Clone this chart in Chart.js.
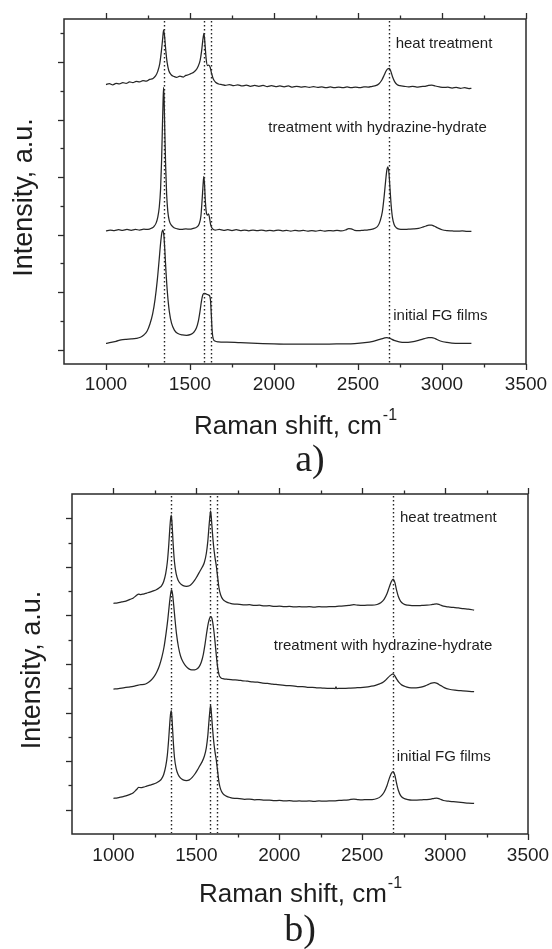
<!DOCTYPE html>
<html>
<head>
<meta charset="utf-8">
<script src="https://cdn.jsdelivr.net/npm/chart.js@4.4.1/dist/chart.umd.min.js"></script>
<style>
  body { margin: 0; background: #fff; }
  #wrap { position: relative; width: 552px; height: 949px; }
  canvas { position: absolute; left: 0; }
</style>
</head>
<body>
<div id="wrap">
  <canvas id="chartA" width="552" height="500" style="top:0"></canvas>
  <canvas id="chartB" width="552" height="479" style="top:470px"></canvas>
</div>
<script>
// Raman spectra, [shift cm-1, offset intensity]; y is in tick units of each panel
const heatA = [[1000,9.72],[1020,9.75],[1040,9.71],[1060,9.76],[1080,9.74],[1100,9.79],[1120,9.76],[1140,9.81],[1160,9.79],[1180,9.83],[1200,9.81],[1220,9.86],[1240,9.84],[1260,9.90],[1280,9.93],[1295,10.02],[1308,10.18],[1320,10.45],[1330,10.90],[1337,11.30],[1343,11.62],[1349,11.38],[1356,10.90],[1364,10.48],[1374,10.20],[1388,10.06],[1405,10.00],[1420,9.97],[1440,10.01],[1460,9.98],[1475,10.04],[1490,10.06],[1505,10.10],[1520,10.14],[1535,10.22],[1548,10.35],[1560,10.55],[1569,10.88],[1576,11.25],[1583,11.50],[1589,11.15],[1596,10.62],[1604,10.38],[1612,10.40],[1620,10.32],[1628,10.12],[1638,9.92],[1652,9.80],[1670,9.74],[1690,9.72],[1710,9.69],[1735,9.72],[1760,9.68],[1785,9.71],[1810,9.67],[1835,9.70],[1860,9.66],[1885,9.69],[1910,9.66],[1935,9.69],[1960,9.65],[1985,9.68],[2010,9.65],[2035,9.67],[2060,9.64],[2085,9.67],[2110,9.63],[2135,9.66],[2160,9.63],[2185,9.65],[2210,9.62],[2235,9.65],[2260,9.62],[2285,9.64],[2310,9.61],[2335,9.64],[2360,9.61],[2385,9.63],[2410,9.61],[2435,9.64],[2460,9.61],[2485,9.63],[2510,9.61],[2535,9.64],[2560,9.63],[2585,9.66],[2605,9.68],[2625,9.75],[2642,9.88],[2656,10.05],[2668,10.20],[2678,10.27],[2687,10.28],[2696,10.17],[2706,9.98],[2718,9.82],[2732,9.72],[2750,9.68],[2775,9.66],[2800,9.64],[2825,9.66],[2850,9.63],[2875,9.65],[2900,9.66],[2920,9.69],[2940,9.70],[2960,9.67],[2985,9.64],[3010,9.62],[3035,9.63],[3060,9.60],[3085,9.62],[3110,9.59],[3135,9.61],[3160,9.58],[3175,9.59]];
const hydrazineA = [[1000,4.63],[1025,4.66],[1050,4.64],[1075,4.67],[1100,4.65],[1125,4.68],[1150,4.65],[1175,4.68],[1200,4.66],[1225,4.69],[1250,4.68],[1270,4.72],[1285,4.78],[1298,4.90],[1308,5.10],[1317,5.45],[1325,6.10],[1331,7.10],[1336,8.30],[1340,9.20],[1343,9.62],[1346,9.20],[1350,8.10],[1355,6.90],[1361,5.90],[1368,5.30],[1377,4.98],[1390,4.82],[1405,4.74],[1425,4.70],[1450,4.68],[1475,4.70],[1500,4.69],[1520,4.72],[1540,4.76],[1555,4.88],[1565,5.15],[1572,5.70],[1578,6.25],[1582,6.52],[1586,6.30],[1591,5.70],[1597,5.28],[1604,5.18],[1611,5.22],[1617,5.05],[1624,4.82],[1635,4.70],[1650,4.66],[1675,4.68],[1700,4.65],[1725,4.67],[1750,4.64],[1775,4.67],[1800,4.64],[1825,4.66],[1850,4.63],[1875,4.66],[1900,4.64],[1925,4.66],[1950,4.63],[1975,4.65],[2000,4.63],[2025,4.66],[2050,4.63],[2075,4.65],[2100,4.62],[2125,4.65],[2150,4.63],[2175,4.65],[2200,4.62],[2225,4.64],[2250,4.62],[2275,4.65],[2300,4.62],[2325,4.64],[2350,4.63],[2375,4.65],[2400,4.63],[2425,4.66],[2445,4.71],[2460,4.70],[2480,4.65],[2505,4.64],[2530,4.65],[2555,4.66],[2580,4.68],[2600,4.72],[2618,4.80],[2632,4.98],[2645,5.30],[2656,5.85],[2665,6.40],[2672,6.75],[2678,6.86],[2684,6.65],[2690,6.15],[2697,5.55],[2705,5.10],[2715,4.85],[2728,4.74],[2745,4.69],[2770,4.68],[2800,4.69],[2830,4.70],[2860,4.72],[2885,4.76],[2905,4.80],[2922,4.83],[2938,4.83],[2955,4.79],[2975,4.73],[3000,4.67],[3030,4.64],[3060,4.63],[3090,4.62],[3120,4.63],[3150,4.61],[3175,4.61]];
const initialA = [[1000,0.72],[1030,0.75],[1060,0.79],[1090,0.84],[1120,0.86],[1150,0.87],[1180,0.89],[1205,0.93],[1225,1.01],[1245,1.15],[1262,1.40],[1278,1.75],[1292,2.25],[1305,2.90],[1316,3.60],[1325,4.20],[1332,4.55],[1338,4.66],[1344,4.50],[1350,3.98],[1357,3.22],[1366,2.45],[1377,1.82],[1390,1.42],[1407,1.18],[1428,1.06],[1455,1.01],[1480,1.00],[1505,1.03],[1522,1.10],[1538,1.25],[1550,1.50],[1560,1.85],[1568,2.18],[1576,2.40],[1584,2.46],[1595,2.44],[1606,2.41],[1616,2.38],[1622,2.22],[1627,1.70],[1632,1.15],[1638,0.88],[1648,0.80],[1670,0.77],[1720,0.76],[1800,0.74],[1900,0.72],[2000,0.70],[2100,0.69],[2200,0.69],[2300,0.69],[2400,0.70],[2480,0.71],[2540,0.74],[2590,0.79],[2630,0.86],[2655,0.90],[2672,0.92],[2690,0.89],[2715,0.82],[2745,0.77],[2780,0.75],[2820,0.77],[2860,0.82],[2895,0.88],[2920,0.92],[2940,0.92],[2960,0.88],[2990,0.80],[3030,0.75],[3080,0.72],[3130,0.72],[3175,0.72]];

const heatB = [[1000,9.50],[1025,9.52],[1050,9.56],[1075,9.59],[1100,9.66],[1120,9.72],[1138,9.82],[1152,9.88],[1165,9.86],[1180,9.88],[1200,9.92],[1220,9.96],[1240,10.01],[1258,10.06],[1275,10.13],[1290,10.22],[1303,10.40],[1315,10.72],[1325,11.20],[1333,11.85],[1340,12.60],[1345,13.00],[1349,13.13],[1354,12.70],[1360,11.95],[1368,11.20],[1378,10.72],[1390,10.45],[1405,10.30],[1420,10.23],[1440,10.20],[1458,10.22],[1475,10.32],[1490,10.45],[1505,10.62],[1520,10.80],[1535,10.98],[1548,11.18],[1560,11.55],[1569,12.05],[1576,12.65],[1582,13.10],[1586,13.31],[1591,12.95],[1597,12.40],[1604,11.85],[1612,11.40],[1620,11.05],[1628,10.60],[1636,10.15],[1646,9.85],[1660,9.66],[1680,9.56],[1705,9.50],[1730,9.47],[1760,9.46],[1790,9.43],[1820,9.44],[1850,9.41],[1880,9.42],[1910,9.39],[1940,9.40],[1970,9.37],[2000,9.38],[2030,9.36],[2060,9.37],[2090,9.35],[2120,9.36],[2150,9.35],[2180,9.36],[2210,9.34],[2240,9.36],[2270,9.35],[2300,9.36],[2330,9.36],[2360,9.38],[2390,9.39],[2420,9.41],[2450,9.44],[2475,9.42],[2500,9.41],[2530,9.42],[2560,9.42],[2590,9.45],[2612,9.52],[2632,9.66],[2650,9.90],[2664,10.18],[2676,10.40],[2687,10.50],[2697,10.36],[2707,10.05],[2718,9.78],[2732,9.58],[2750,9.47],[2775,9.42],[2800,9.40],[2830,9.40],[2860,9.41],[2890,9.42],[2915,9.44],[2935,9.47],[2950,9.48],[2968,9.44],[2990,9.38],[3020,9.35],[3050,9.33],[3080,9.31],[3110,9.28],[3140,9.26],[3175,9.22]];
const hydrazineB = [[1000,5.97],[1030,5.99],[1060,6.02],[1090,6.05],[1120,6.08],[1150,6.13],[1165,6.15],[1185,6.16],[1205,6.22],[1225,6.32],[1245,6.48],[1262,6.68],[1278,6.95],[1292,7.28],[1305,7.70],[1317,8.25],[1328,8.85],[1337,9.45],[1344,9.85],[1350,10.05],[1356,9.90],[1363,9.45],[1371,8.85],[1380,8.25],[1392,7.70],[1405,7.32],[1420,7.08],[1438,6.90],[1455,6.80],[1472,6.76],[1490,6.76],[1505,6.80],[1518,6.90],[1530,7.08],[1542,7.40],[1553,7.85],[1563,8.32],[1572,8.68],[1580,8.88],[1588,8.95],[1596,8.82],[1604,8.45],[1612,7.95],[1620,7.38],[1628,6.88],[1637,6.55],[1648,6.43],[1665,6.39],[1690,6.37],[1720,6.35],[1750,6.34],[1780,6.31],[1810,6.29],[1840,6.26],[1870,6.25],[1900,6.21],[1930,6.20],[1960,6.17],[1990,6.15],[2020,6.13],[2050,6.11],[2080,6.10],[2110,6.07],[2140,6.07],[2170,6.04],[2200,6.04],[2230,6.02],[2260,6.01],[2290,6.00],[2320,6.00],[2338,5.99],[2342,6.06],[2346,5.99],[2370,6.00],[2400,6.00],[2430,6.01],[2460,6.02],[2490,6.03],[2520,6.05],[2550,6.08],[2580,6.12],[2605,6.18],[2628,6.26],[2648,6.38],[2665,6.50],[2678,6.57],[2686,6.59],[2696,6.52],[2708,6.38],[2722,6.24],[2740,6.13],[2765,6.06],[2795,6.02],[2825,6.02],[2855,6.05],[2880,6.10],[2900,6.16],[2918,6.21],[2935,6.23],[2952,6.20],[2972,6.12],[2995,6.03],[3025,5.96],[3060,5.92],[3095,5.90],[3130,5.88],[3175,5.86]];
const initialB = [[1000,1.47],[1025,1.49],[1050,1.53],[1075,1.57],[1100,1.63],[1120,1.70],[1138,1.82],[1152,1.92],[1165,1.91],[1180,1.93],[1200,1.97],[1220,2.01],[1240,2.05],[1258,2.10],[1275,2.17],[1290,2.27],[1303,2.45],[1315,2.78],[1325,3.25],[1333,3.90],[1340,4.60],[1345,4.98],[1349,5.08],[1354,4.65],[1360,3.90],[1368,3.15],[1378,2.70],[1390,2.45],[1405,2.30],[1420,2.23],[1440,2.20],[1458,2.23],[1475,2.33],[1490,2.46],[1505,2.62],[1520,2.80],[1535,2.98],[1548,3.20],[1560,3.55],[1569,4.05],[1576,4.65],[1582,5.10],[1586,5.31],[1591,4.95],[1597,4.40],[1604,3.85],[1612,3.40],[1620,3.05],[1628,2.60],[1636,2.15],[1646,1.85],[1660,1.66],[1680,1.56],[1705,1.50],[1730,1.47],[1760,1.46],[1790,1.43],[1820,1.44],[1850,1.41],[1880,1.42],[1910,1.39],[1940,1.40],[1970,1.37],[2000,1.38],[2030,1.36],[2060,1.37],[2090,1.35],[2120,1.36],[2150,1.35],[2180,1.36],[2210,1.34],[2240,1.36],[2270,1.35],[2300,1.36],[2330,1.36],[2360,1.38],[2390,1.39],[2420,1.41],[2450,1.44],[2475,1.42],[2500,1.41],[2530,1.42],[2560,1.42],[2590,1.46],[2612,1.55],[2632,1.72],[2650,2.00],[2664,2.30],[2676,2.50],[2687,2.57],[2697,2.42],[2707,2.10],[2718,1.80],[2732,1.58],[2750,1.47],[2775,1.42],[2800,1.40],[2830,1.40],[2860,1.41],[2890,1.42],[2915,1.44],[2935,1.47],[2950,1.48],[2968,1.44],[2990,1.38],[3020,1.35],[3050,1.33],[3080,1.31],[3110,1.29],[3140,1.27],[3175,1.26]];

// axes
const xMajor = [1000, 1500, 2000, 2500, 3000, 3500];
const xMinor = [1250, 1750, 2250, 2750, 3250];
const yTicksA = [0.5, 1.5, 2.5, 3.5, 4.5, 5.5, 6.5, 7.5, 8.5, 9.5, 10.5, 11.5];
const yTicksB = [1, 2, 3, 4, 5, 6, 7, 8, 9, 10, 11, 12, 13];

// D, G, D' and 2D band positions (dotted guides)
const peakLines = [1345, 1585, 1623, 2687];

const curveLabels = ["heat treatment", "treatment with hydrazine-hydrate", "initial FG films"];
const labelXA = [2724, 1966, 2710];
const labelYA = [11.15, 8.2, 1.67];
const labelXB = [2728, 1967, 2708];
const labelYB = [13.0, 7.75, 3.16];

const FONT = '"Liberation Sans", Arial, sans-serif';
const INK = "#1e1e1e";

function hline(ctx, x1, y1, x2, y2) {
  ctx.beginPath();
  ctx.moveTo(x1, y1);
  ctx.lineTo(x2, y2);
  ctx.stroke();
}

const panelPlugin = {
  id: "panel",
  beforeDatasetsDraw(chart, args, o) {
    const { ctx, chartArea: a, scales: { x, y } } = chart;
    ctx.save();
    // dotted band guides
    ctx.strokeStyle = "#222";
    ctx.lineWidth = 1.4;
    ctx.setLineDash([1.5, 2.5]);
    peakLines.forEach((v) => {
      const px = Math.round(x.getPixelForValue(v)) + 0.5;
      hline(ctx, px, a.top + 2, px, a.bottom - 1);
    });
    ctx.setLineDash([]);
    // curve names, white box hides the guide behind the text
    ctx.font = "15px " + FONT;
    ctx.textBaseline = "middle";
    ctx.textAlign = "left";
    curveLabels.forEach((t, i) => {
      const px = x.getPixelForValue(o.labelX[i]);
      const py = y.getPixelForValue(o.labelY[i]);
      const w = ctx.measureText(t).width;
      ctx.fillStyle = "#fff";
      ctx.fillRect(px - 2, py - 8, w + 4, 16);
      ctx.fillStyle = INK;
      ctx.fillText(t, px, py);
    });
    ctx.restore();
  },
  afterDraw(chart, args, o) {
    const { ctx, chartArea: a, scales: { x, y } } = chart;
    ctx.save();
    ctx.strokeStyle = "#2a2a2a";
    ctx.lineWidth = 1.5;
    ctx.strokeRect(a.left, a.top, a.right - a.left, a.bottom - a.top);

    // x ticks, bottom and top, pointing out
    ctx.lineWidth = 1.3;
    xMajor.forEach((v) => {
      const px = Math.round(x.getPixelForValue(v)) + 0.5;
      hline(ctx, px, a.bottom, px, a.bottom + 6);
      hline(ctx, px, a.top, px, a.top - 6);
    });
    xMinor.forEach((v) => {
      const px = Math.round(x.getPixelForValue(v)) + 0.5;
      hline(ctx, px, a.bottom, px, a.bottom + 3.5);
      hline(ctx, px, a.top, px, a.top - 3.5);
    });
    // y ticks, alternating long / short
    o.yTicks.forEach((v, i) => {
      const py = Math.round(y.getPixelForValue(v)) + 0.5;
      const len = i % 2 === o.longParity ? 6 : 3.5;
      hline(ctx, a.left, py, a.left - len, py);
    });

    // tick labels
    ctx.fillStyle = INK;
    ctx.font = "19px " + FONT;
    ctx.textAlign = "center";
    ctx.textBaseline = "middle";
    xMajor.forEach((v) => {
      ctx.fillText(String(v), x.getPixelForValue(v), a.bottom + o.tickGap);
    });

    // x title with superscript
    const cx = (a.left + a.right) / 2;
    ctx.font = "26px " + FONT;
    const main = "Raman shift, cm";
    const wMain = ctx.measureText(main).width;
    ctx.font = "16px " + FONT;
    const wSup = ctx.measureText("-1").width;
    const left = cx - (wMain + wSup) / 2;
    ctx.textAlign = "left";
    ctx.textBaseline = "alphabetic";
    ctx.font = "26px " + FONT;
    ctx.fillText(main, left, a.bottom + o.titleBase);
    ctx.font = "16px " + FONT;
    ctx.fillText("-1", left + wMain + 1, a.bottom + o.titleBase - 14);

    // y title
    ctx.save();
    ctx.translate(a.left - 39, (a.top + a.bottom) / 2 + 6);
    ctx.rotate(-Math.PI / 2);
    ctx.font = "27px " + FONT;
    ctx.textAlign = "center";
    ctx.textBaseline = "middle";
    ctx.fillText("Intensity, a.u.", 0, 0);
    ctx.restore();

    // panel letter
    ctx.font = '38px "Liberation Serif", "Times New Roman", serif';
    ctx.textAlign = "center";
    ctx.textBaseline = "middle";
    ctx.fillText(o.letter, cx + o.letterShift, a.bottom + 97);
    ctx.restore();
  }
};

function spectrum(points) {
  return {
    data: points.map(([x, y]) => ({ x, y })),
    borderColor: "#262626",
    borderWidth: 1.25,
    pointRadius: 0,
    cubicInterpolationMode: "monotone",
    fill: false
  };
}

function makePanel(id, series, yMax, padding, panelOpts) {
  return new Chart(document.getElementById(id), {
    type: "line",
    data: { datasets: series.map(spectrum) },
    options: {
      responsive: false,
      animation: false,
      devicePixelRatio: 1,
      layout: { padding },
      scales: {
        x: { type: "linear", min: 750, max: 3500, display: false },
        y: { min: 0, max: yMax, display: false }
      },
      plugins: {
        legend: { display: false },
        tooltip: { enabled: false },
        panel: panelOpts
      }
    },
    plugins: [panelPlugin]
  });
}

// panel a: plot box 64..526 x 19..364 on a canvas that runs under panel b
makePanel("chartA", [heatA, hydrazineA, initialA], 12,
  { left: 64, right: 26, top: 19, bottom: 136 },
  { labelX: labelXA, labelY: labelYA, yTicks: yTicksA, longParity: 0,
    tickGap: 21, titleBase: 70, letter: "a)", letterShift: 15 });

// panel b: plot box 72..528 x 494..834
makePanel("chartB", [heatB, hydrazineB, initialB], 14,
  { left: 72, right: 24, top: 24, bottom: 115 },
  { labelX: labelXB, labelY: labelYB, yTicks: yTicksB, longParity: 0,
    tickGap: 22, titleBase: 68, letter: "b)", letterShift: 0 });
</script>
</body>
</html>
